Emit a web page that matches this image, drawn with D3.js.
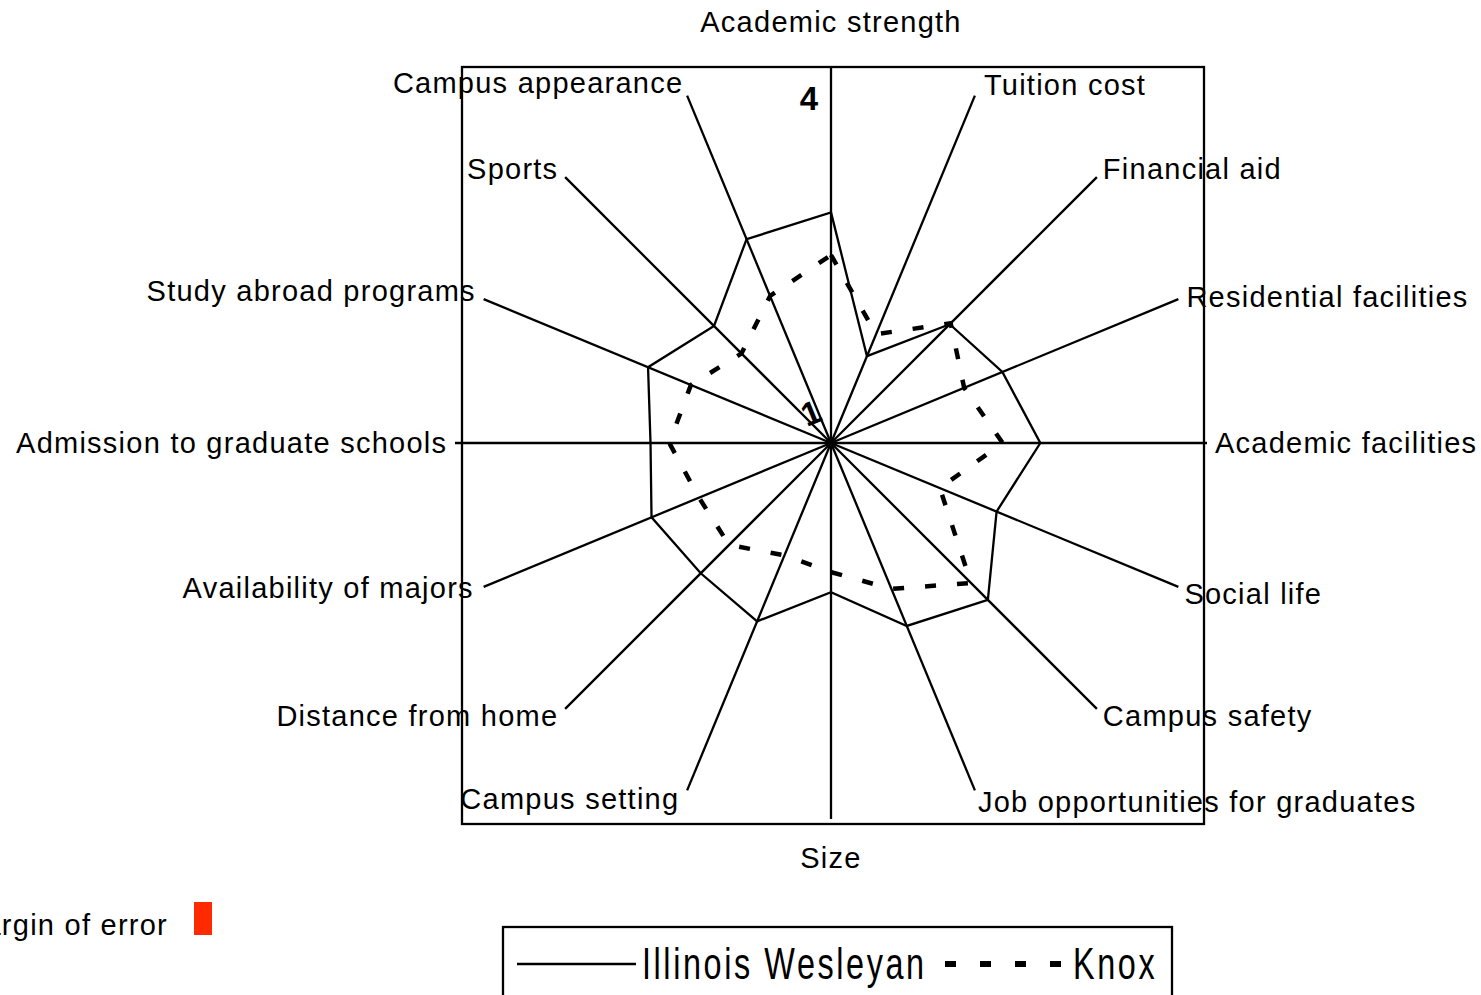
<!DOCTYPE html>
<html>
<head>
<meta charset="utf-8">
<script src="https://cdn.jsdelivr.net/npm/d3@7"></script>
<style>
  html, body { margin: 0; padding: 0; background: #fff; }
  svg { display: block; }
  text { font-family: "Liberation Sans", Arial, sans-serif; }
</style>
</head>
<body>
<svg id="chart" width="1481" height="995"></svg>
<script>
// ---- data ----
const categories = [
  "Academic strength", "Tuition cost", "Financial aid", "Residential facilities",
  "Academic facilities", "Social life", "Campus safety", "Job opportunities for graduates",
  "Size", "Campus setting", "Distance from home", "Availability of majors",
  "Admission to graduate schools", "Study abroad programs", "Sports", "Campus appearance"
];
const illinoisWesleyan = [2.84, 1.75, 2.34, 2.48, 2.67, 2.43, 2.77, 2.58,
                          2.19, 2.54, 2.47, 2.55, 2.44, 2.58, 2.32, 2.76];
const knox = [2.50, 1.94, 2.35, 2.15, 2.37, 1.94, 2.58, 2.26,
              2.03, 1.97, 2.15, 2.14, 2.29, 2.21, 2.01, 2.27];
const seriesNames = ["Illinois Wesleyan", "Knox"];
const scaleLabels = ["1", "4"];
const scaleDomain = [1, 4];

// ---- layout ----
const svg = d3.select("#chart");
const cx = 831, cy = 443, R = 376;
const r = d3.scaleLinear().domain(scaleDomain).range([0, R]);
const angle = d3.scaleLinear().domain([0, categories.length]).range([0, 2 * Math.PI]);
const pt = (i, rad) => [cx + rad * Math.sin(angle(i)), cy - rad * Math.cos(angle(i))];

const labelFont = 29, ls = 1.25, lw = 2.3;
// label offsets from each axis end (layout only)
const labelDx = [0, 9, 6, 8, 8, 6, 6, 3, 0, -9, -8, -11, -9, -9, -8, -5];
const labelDy = [-45, -11, -8, -2, 0, 7, 7, 12, 39, 9, 7, 1, 0, -8, -8, -13];

// plot box
svg.append("rect")
  .attr("x", 462).attr("y", 67).attr("width", 742).attr("height", 757)
  .attr("fill", "none").attr("stroke", "#000").attr("stroke-width", lw);

// axes
svg.append("g").selectAll("line").data(categories).join("line")
  .attr("x1", cx).attr("y1", cy)
  .attr("x2", (d, i) => pt(i, R)[0]).attr("y2", (d, i) => pt(i, R)[1])
  .attr("stroke", "#000").attr("stroke-width", lw);

// series
const radial = d3.lineRadial().angle((d, i) => angle(i)).radius(d => r(d)).curve(d3.curveLinearClosed);
const g = svg.append("g").attr("transform", `translate(${cx},${cy})`);
g.append("path").attr("d", radial(illinoisWesleyan))
  .attr("fill", "none").attr("stroke", "#000").attr("stroke-width", lw).attr("stroke-linejoin", "miter");
g.append("path").attr("d", radial(knox))
  .attr("fill", "none").attr("stroke", "#000").attr("stroke-width", 4.5)
  .attr("stroke-dasharray", "11,21");

// category labels
svg.append("g").selectAll("text").data(categories).join("text")
  .each(function (d, i) {
    const [x, y] = pt(i, R);
    const s = Math.sin(angle(i));
    const anchor = s > 0.1 ? "start" : (s < -0.1 ? "end" : "middle");
    const extra = anchor === "end" ? ls : 0;
    d3.select(this).attr("x", x + labelDx[i] + extra).attr("y", y + labelDy[i]).attr("text-anchor", anchor);
  })
  .attr("dominant-baseline", "central")
  .attr("font-size", labelFont).attr("letter-spacing", ls)
  .text(d => d);

// scale labels
svg.append("text").attr("x", 809).attr("y", 98).attr("text-anchor", "middle")
  .attr("dominant-baseline", "central").attr("font-size", 33).attr("font-weight", "bold")
  .text(scaleLabels[1]);
svg.append("text").attr("x", 811).attr("y", 413).attr("text-anchor", "middle")
  .attr("dominant-baseline", "central").attr("font-size", 33).attr("font-weight", "bold")
  .attr("transform", "rotate(-22,811,413)")
  .text(scaleLabels[0]);

// margin of error note
svg.append("text").attr("x", 168).attr("y", 925).attr("text-anchor", "end")
  .attr("dominant-baseline", "central").attr("font-size", labelFont).attr("letter-spacing", ls)
  .text("Margin of error");
svg.append("rect").attr("x", 194).attr("y", 902).attr("width", 18).attr("height", 33)
  .attr("fill", "#ff2a00");

// legend
svg.append("rect").attr("x", 503).attr("y", 927).attr("width", 669).attr("height", 90)
  .attr("fill", "#fff").attr("stroke", "#000").attr("stroke-width", lw);
svg.append("line").attr("x1", 517).attr("x2", 636).attr("y1", 964).attr("y2", 964)
  .attr("stroke", "#000").attr("stroke-width", lw);
svg.append("line").attr("x1", 945).attr("x2", 1061).attr("y1", 964).attr("y2", 964)
  .attr("stroke", "#000").attr("stroke-width", 6).attr("stroke-dasharray", "11,24");
const legText = (x, t) => svg.append("text")
  .attr("transform", `translate(${x},964) scale(0.72,1)`)
  .attr("dominant-baseline", "central").attr("font-size", 45)
  .attr("letter-spacing", 3.6)
  .text(t);
legText(642, seriesNames[0]);
legText(1073, seriesNames[1]);
</script>
</body>
</html>
